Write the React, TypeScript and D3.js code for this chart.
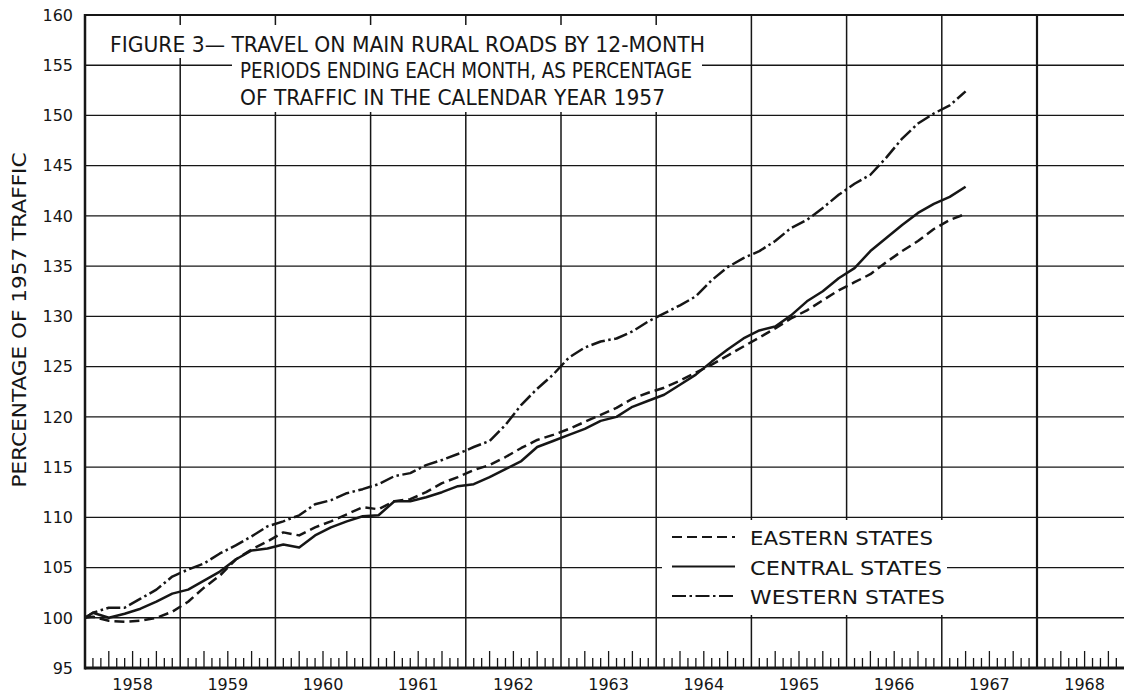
import * as d3 from 'd3';

const years = [1958, 1959, 1960, 1961, 1962, 1963, 1964, 1965, 1966, 1967, 1968];
const yTicks = [95, 100, 105, 110, 115, 120, 125, 130, 135, 140, 145, 150, 155, 160];

// months after December 1957 (12-month period ending that month)
const months = [
  0, 1, 3, 5, 7, 9, 11, 13, 15, 17, 19, 21, 23, 25, 27, 29, 31, 33, 35, 37, 39, 41, 43, 45, 47, 49,
  51, 53, 55, 57, 59, 61, 63, 65, 67, 69, 71, 73, 75, 77, 79, 81, 83, 85, 87, 89, 91, 93, 95, 97,
  99, 101, 103, 105, 107, 109, 111,
];

const eastern = [
  100.0, 100.1, 99.7, 99.6, 99.7, 100.0, 100.6, 101.6, 103.0, 104.2, 105.8, 106.8, 107.6, 108.5,
  108.2, 109.0, 109.6, 110.3, 111.0, 110.8, 111.6, 111.8, 112.5, 113.4, 114.0, 114.7, 115.2, 116.0,
  116.9, 117.7, 118.2, 118.8, 119.5, 120.2, 120.9, 121.8, 122.4, 122.9, 123.6, 124.4, 125.2, 126.1,
  127.0, 127.9, 128.8, 129.8, 130.6, 131.6, 132.6, 133.4, 134.2, 135.4, 136.5, 137.5, 138.7, 139.6,
  140.2,
];

const central = [
  100.0, 100.5, 100.0, 100.4, 100.9, 101.6, 102.4, 102.8, 103.7, 104.6, 105.8, 106.7, 106.9, 107.3,
  107.0, 108.2, 109.0, 109.6, 110.1, 110.2, 111.6, 111.6, 112.0, 112.5, 113.1, 113.3, 114.0, 114.8,
  115.6, 117.0, 117.6, 118.2, 118.8, 119.6, 120.0, 121.0, 121.6, 122.2, 123.2, 124.2, 125.5, 126.7,
  127.8, 128.6, 129.0, 130.1, 131.5, 132.5, 133.8, 134.8, 136.5, 137.8, 139.1, 140.3, 141.2, 141.9,
  142.9,
];

const western = [
  100.0, 100.5, 101.0, 101.0, 101.9, 102.8, 104.1, 104.8, 105.4, 106.4, 107.2, 108.1, 109.1, 109.6,
  110.2, 111.3, 111.7, 112.4, 112.8, 113.3, 114.1, 114.4, 115.2, 115.7, 116.3, 117.0, 117.6, 119.2,
  121.2, 122.8, 124.2, 125.9, 126.9, 127.5, 127.8, 128.5, 129.5, 130.3, 131.1, 132.0, 133.6, 134.9,
  135.8, 136.5, 137.5, 138.8, 139.6, 140.8, 142.1, 143.2, 144.1, 145.8, 147.7, 149.2, 150.2, 151.0,
  152.4,
];

const seriesNames = ['EASTERN STATES', 'CENTRAL STATES', 'WESTERN STATES'];
const titleLines = [
  'FIGURE 3— TRAVEL ON MAIN RURAL ROADS BY 12-MONTH',
  'PERIODS ENDING EACH MONTH, AS PERCENTAGE',
  'OF TRAFFIC IN THE CALENDAR YEAR 1957',
];
const yTitle = 'PERCENTAGE OF 1957 TRAFFIC';

const W = 1124;
const H = 698;
const ink = '#161616';
const font = '"DejaVu Sans", "Liberation Sans", sans-serif';

const x = d3.scaleLinear().domain([1958, 1968]).range([85, 1037]);
const y = d3.scaleLinear().domain([95, 160]).range([668, 15]);
const xRight = W;

const series = [
  { name: seriesNames[0], values: eastern, dash: '10 5' },
  { name: seriesNames[1], values: central, dash: undefined },
  { name: seriesNames[2], values: western, dash: '14 3.5 2.5 3.5' },
];

const line = d3
  .line<number>()
  .x((_, i) => x(1958 + months[i] / 12))
  .y(d => y(d))
  .curve(d3.curveLinear);

export default function App() {
  const monthTicks = d3.range(1, 12 * 11).filter(m => m % 12 !== 0);
  const yBottom = y(95);
  const yTop = y(160);

  return (
    <svg
      width={W}
      height={H}
      style={{ position: 'absolute', left: 0, top: 0, background: '#fff' }}
      fontFamily={font}
    >
      <rect width={W} height={H} fill="#fff" />

      {/* horizontal grid */}
      {yTicks
        .filter(v => v !== 95 && v !== 160)
        .map(v => (
          <line key={v} x1={x(1958)} x2={xRight} y1={y(v)} y2={y(v)} stroke={ink} strokeWidth={1.3} />
        ))}
      {/* year lines */}
      {years.slice(1).map(yr => (
        <line
          key={yr}
          x1={x(yr)}
          x2={x(yr)}
          y1={yTop}
          y2={yBottom}
          stroke={ink}
          strokeWidth={yr === 1968 ? 2.2 : 1.5}
        />
      ))}

      {/* month ticks */}
      {monthTicks.map(m => {
        const px = x(1958 + m / 12);
        if (px > W) return null;
        const tall = m % 3 === 0;
        return (
          <line key={m} x1={px} x2={px} y1={yBottom} y2={yBottom - (tall ? 17 : 10)} stroke={ink} strokeWidth={1.3} />
        );
      })}

      {/* frame */}
      <line x1={x(1958)} x2={xRight} y1={yTop} y2={yTop} stroke={ink} strokeWidth={2.2} />
      <line x1={x(1958)} x2={xRight} y1={yBottom} y2={yBottom} stroke={ink} strokeWidth={3} />
      <line x1={x(1958)} x2={x(1958)} y1={yTop - 1} y2={yBottom + 1.5} stroke={ink} strokeWidth={2.5} />

      {/* title */}
      <rect x={100} y={25} width={615} height={33} fill="#fff" />
      <rect x={232} y={57} width={470} height={55} fill="#fff" />
      <text x={110} y={52} fontSize={21} fill={ink} textLength={595} lengthAdjust="spacingAndGlyphs">
        {titleLines[0]}
      </text>
      <text x={240} y={78} fontSize={21} fill={ink} textLength={452} lengthAdjust="spacingAndGlyphs">
        {titleLines[1]}
      </text>
      <text x={240} y={105} fontSize={21} fill={ink} textLength={425} lengthAdjust="spacingAndGlyphs">
        {titleLines[2]}
      </text>

      {/* legend */}
      <rect x={662} y={520} width={285} height={95} fill="#fff" />
      {series.map((s, i) => {
        const ly = 537 + i * 29.5;
        return (
          <g key={s.name}>
            <line x1={672} x2={735} y1={ly} y2={ly} stroke={ink} strokeWidth={2.2} strokeDasharray={s.dash} />
            <text
              x={750}
              y={ly + 8}
              fontSize={20}
              fill={ink}
              textLength={i === 2 ? 195 : i === 1 ? 192 : 183}
              lengthAdjust="spacingAndGlyphs"
            >
              {s.name}
            </text>
          </g>
        );
      })}

      {/* series */}
      {series.map(s => (
        <path
          key={s.name}
          d={line(s.values) ?? ''}
          fill="none"
          stroke={ink}
          strokeWidth={2.5}
          strokeLinejoin="round"
          strokeDasharray={s.dash}
        />
      ))}

      {/* y ticks */}
      {yTicks.map(v => (
        <text key={v} x={73} y={y(v)} dy="0.36em" textAnchor="end" fontSize={16} fill={ink}>
          {v}
        </text>
      ))}

      {/* x labels */}
      {years.map(yr => (
        <text key={yr} x={x(yr + 0.5)} y={690} textAnchor="middle" fontSize={16} fill={ink}>
          {yr}
        </text>
      ))}

      {/* y title */}
      <text
        transform="translate(26,320) rotate(-90)"
        textAnchor="middle"
        fontSize={19}
        fill={ink}
        textLength={335}
        lengthAdjust="spacingAndGlyphs"
      >
        {yTitle}
      </text>
    </svg>
  );
}
